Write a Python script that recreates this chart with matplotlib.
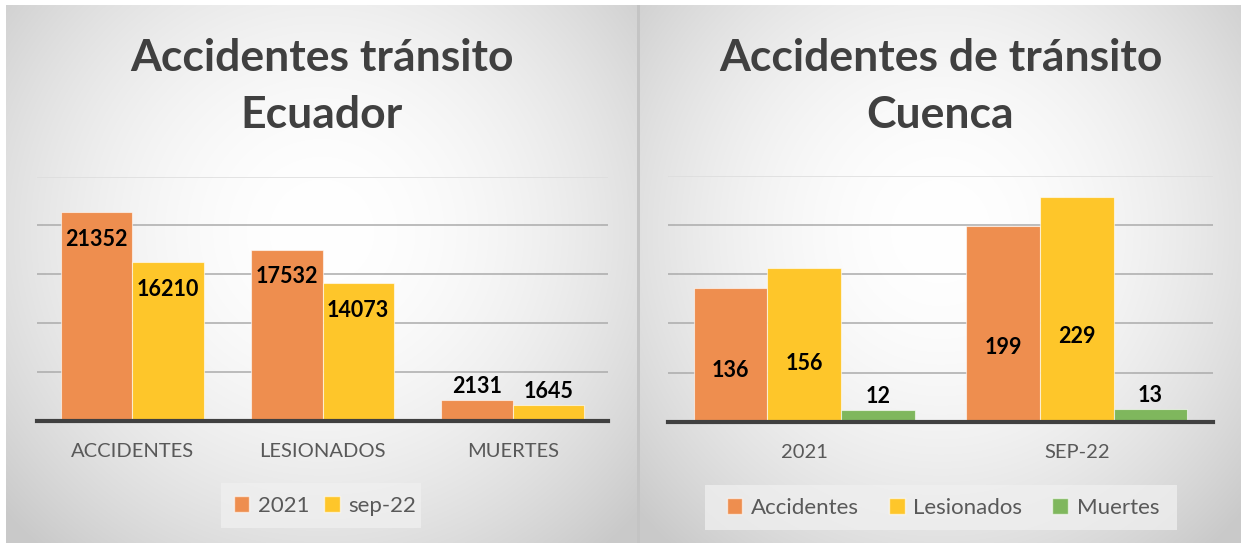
import numpy as np
import matplotlib
matplotlib.use("Agg")
import matplotlib.pyplot as plt
from matplotlib.patches import Rectangle, Patch

# ---------------- data ----------------
ecu_categories = ["ACCIDENTES", "LESIONADOS", "MUERTES"]
ecu_2021 = [21352, 17532, 2131]
ecu_sep22 = [16210, 14073, 1645]
ecu_series_names = ["2021", "sep-22"]

cue_categories = ["2021", "SEP-22"]
cue_accidentes = [136, 199]
cue_lesionados = [156, 229]
cue_muertes = [12, 13]
cue_series_names = ["Accidentes", "Lesionados", "Muertes"]

title_left = "Accidentes tránsito\nEcuador"
title_right = "Accidentes de tránsito\nCuenca"

# ---------------- style ----------------
ORANGE = "#EE8E4F"
YELLOW = "#FEC62A"
GREEN = "#7FB75D"
TITLE_C = "#404040"
TICK_C = "#595959"
FONT = "Lato"
TITLE_SIZE = 32

W, H = 1244, 543
fig = plt.figure(figsize=(W / 100, H / 100), dpi=100)
fig.patch.set_facecolor("white")


def frect(x0, y0, x1, y1):
    return [x0 / W, 1 - y1 / H, (x1 - x0) / W, (y1 - y0) / H]


def panel_bg(x0, y0, x1, y1, legend_box):
    w, h = int(x1 - x0), int(y1 - y0)
    ax = fig.add_axes(frect(x0, y0, x1, y1), zorder=0)
    yy, xx = np.mgrid[0:h, 0:w]
    cx, cy = w / 2, h * 0.42
    d = np.sqrt(((xx - cx) / (w * 0.5)) ** 2 + ((yy - cy) / (h * 0.58)) ** 2)
    v = 1 - 0.21 * np.clip(d / 1.35, 0, 1) ** 1.9
    img = np.dstack([v, v, v])
    ax.imshow(img, extent=[0, w, h, 0], aspect="auto", interpolation="bilinear")
    ax.set_xlim(0, w)
    ax.set_ylim(h, 0)
    ax.axis("off")
    lx0, ly0, lx1, ly1 = legend_box
    ax.add_patch(Rectangle((lx0 - x0, ly0 - y0), lx1 - lx0, ly1 - ly0,
                           facecolor="#f0f0f0", edgecolor="none", alpha=0.75, zorder=2))
    return ax


bg_left = panel_bg(6, 5, 637, 543, (221, 483, 421, 528))
bg_right = panel_bg(640, 5, 1241, 543, (705, 485, 1177, 530))
fig.patches.append(Rectangle((637 / W, 0), 3 / W, 1 - 5 / H, transform=fig.transFigure,
                             facecolor="#c4c4c4", edgecolor="none", zorder=1))

# titles
for cx, ttl in [(321.5, title_left), (940.5, title_right)]:
    l1, l2 = ttl.split("\n")
    fig.text(cx / W, 1 - 58 / H, l1, ha="center", va="center",
             fontsize=TITLE_SIZE, fontweight="bold", color=TITLE_C, family=FONT, zorder=5)
    fig.text(cx / W, 1 - 115 / H, l2, ha="center", va="center",
             fontsize=TITLE_SIZE, fontweight="bold", color=TITLE_C, family=FONT, zorder=5)


def style_axes(ax, ymax, step):
    ax.set_facecolor("none")
    for s in ax.spines.values():
        s.set_visible(False)
    ax.set_ylim(0, ymax)
    ax.set_yticks(np.arange(step, ymax + step / 2, step))
    ax.tick_params(axis="y", length=0, labelleft=False)
    ax.tick_params(axis="x", length=0, pad=16, labelsize=14.5, labelcolor=TICK_C)
    for lab in ax.get_xticklabels():
        lab.set_family(FONT)
    ax.yaxis.grid(True, color="#ababab", linewidth=1.1, zorder=0)
    ax.set_axisbelow(True)
    gls = ax.get_ygridlines()
    gls[-1].set_color("#dcdcdc")
    ax.axhline(0, color="#404040", linewidth=3, zorder=4, clip_on=False)


# ---------------- left chart ----------------
axL = fig.add_axes(frect(37, 176.6, 608, 420.7), zorder=3)
xL = np.arange(len(ecu_categories))
bwL = 0.375
for k, (vals, col) in enumerate([(ecu_2021, ORANGE), (ecu_sep22, YELLOW)]):
    xs = xL + (k - 0.5) * bwL
    axL.bar(xs, vals, bwL, color=col, edgecolor=(1, 1, 1, 0.6), linewidth=0.8, zorder=3)
    for xi, v in zip(xs, vals):
        inside = v > 5000
        axL.annotate(str(v), (xi, v), xytext=(0, -27 if inside else 13),
                     textcoords="offset pixels", ha="center", va="center",
                     fontsize=15.5, fontweight="bold", color="black", family=FONT, zorder=6)
axL.set_xlim(-0.5, len(ecu_categories) - 0.5)
axL.set_xticks(xL, ecu_categories)
style_axes(axL, 25000, 5000)

legL = fig.legend(handles=[Patch(facecolor=ORANGE, edgecolor=(1, 1, 1, 0.6)),
                           Patch(facecolor=YELLOW, edgecolor=(1, 1, 1, 0.6))],
                  labels=ecu_series_names, loc="center", bbox_to_anchor=(325 / W, 1 - 505.5 / H),
                  ncol=2, frameon=False, handlelength=0.7, handleheight=0.7,
                  handletextpad=0.4, columnspacing=0.65, prop={"family": FONT, "size": 16})
for t in legL.get_texts():
    t.set_color(TICK_C)

# ---------------- right chart ----------------
axR = fig.add_axes(frect(668, 176, 1213, 421.7), zorder=3)
xR = np.arange(len(cue_categories))
bwR = 0.27
series_R = [(cue_accidentes, ORANGE), (cue_lesionados, YELLOW), (cue_muertes, GREEN)]
for k, (vals, col) in enumerate(series_R):
    xs = xR + (k - 1) * bwR
    axR.bar(xs, vals, bwR, color=col, edgecolor=(1, 1, 1, 0.6), linewidth=0.8, zorder=3)
    for xi, v in zip(xs, vals):
        if v > 50:
            axR.annotate(str(v), (xi, v * 0.38), ha="center", va="center",
                         fontsize=15.5, fontweight="bold", color="black", family=FONT, zorder=6)
        else:
            axR.annotate(str(v), (xi, v), xytext=(0, 13), textcoords="offset pixels",
                         ha="center", va="center", fontsize=15.5, fontweight="bold",
                         color="black", family=FONT, zorder=6)
axR.set_xlim(-0.5, len(cue_categories) - 0.5)
axR.set_xticks(xR, cue_categories)
style_axes(axR, 250, 50)

legR = fig.legend(handles=[Patch(facecolor=c, edgecolor=(1, 1, 1, 0.6)) for _, c in series_R],
                  labels=cue_series_names, loc="center", bbox_to_anchor=(943 / W, 1 - 507.5 / H),
                  ncol=3, frameon=False, handlelength=0.7, handleheight=0.7,
                  handletextpad=0.4, columnspacing=1.35, prop={"family": FONT, "size": 16})
for t in legR.get_texts():
    t.set_color(TICK_C)

fig.savefig("out.png", dpi=100, facecolor="white")
